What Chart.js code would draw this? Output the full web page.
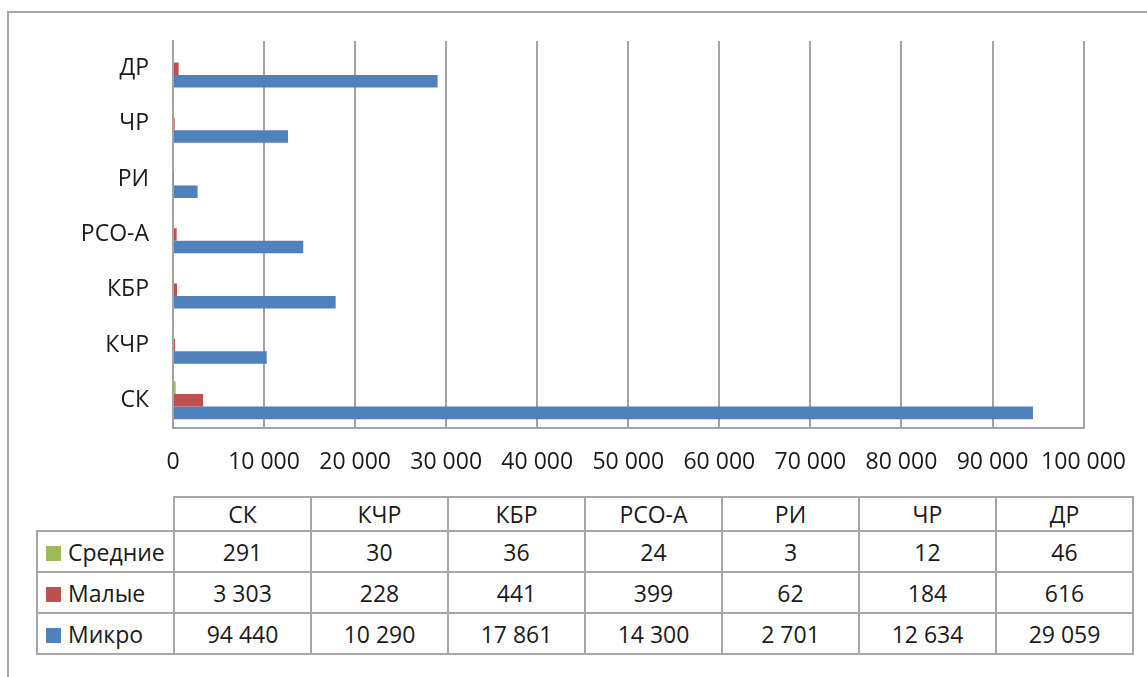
<!DOCTYPE html>
<html>
<head>
<meta charset="utf-8">
<script src="https://cdn.jsdelivr.net/npm/chart.js@4"></script>
<style>
  html, body { margin: 0; padding: 0; background: #fff; }
  body { width: 1147px; height: 677px; position: relative; overflow: hidden;
         font-family: "Open Sans", sans-serif; color: #1a1a1a; }
  #frame { position: absolute; left: 7px; top: 11px; width: 1200px; height: 700px;
           border-left: 2px solid #a6a6a6; border-top: 2px solid #a6a6a6; }
  #wrap { position: absolute; left: 0; top: 0; width: 1147px; height: 490px; }
  #data { position: absolute; left: 36px; top: 496px; border-collapse: collapse; font-size: 23px; }
  #data td { border: 2px solid #a6a6a6; text-align: center; padding: 0; height: 39px; width: 135px; }
  #data tr.head td { height: 29px; }
  #data td.empty { border: none; border-bottom: 2px solid #a6a6a6; border-right: 2px solid #a6a6a6; }
  #data td.name { text-align: left; padding-left: 8px; width: 127px; white-space: nowrap; }
  .key { display: inline-block; width: 15px; height: 15px; margin-right: 7px; vertical-align: 0px; }
</style>
</head>
<body>
<div id="frame"></div>
<div id="wrap"><canvas id="chart" width="1147" height="490"></canvas></div>
<table id="data"></table>
<script>
const regions = ['СК', 'КЧР', 'КБР', 'РСО-А', 'РИ', 'ЧР', 'ДР'];
const seriesNames = ['Средние', 'Малые', 'Микро'];
const seriesColors = ['#9bbb59', '#c0504d', '#4f81bd'];
const medium = [291, 30, 36, 24, 3, 12, 46];
const small = [3303, 228, 441, 399, 62, 184, 616];
const micro = [94440, 10290, 17861, 14300, 2701, 12634, 29059];
const xTicks = [0, 10000, 20000, 30000, 40000, 50000, 60000, 70000, 80000, 90000, 100000];

const series = [medium, small, micro];
const fmt = v => String(v).replace(/\B(?=(\d{3})+(?!\d))/g, ' ');
const font = { family: '"Open Sans", sans-serif', size: 23 };

// chart lists regions top-down, so flip the order
const chartLabels = regions.slice().reverse();

new Chart(document.getElementById('chart'), {
  type: 'bar',
  data: {
    labels: chartLabels,
    datasets: series.map((vals, i) => ({
      label: seriesNames[i],
      data: vals.slice().reverse(),
      backgroundColor: seriesColors[i],
      categoryPercentage: 0.68,
      barPercentage: 1
    }))
  },
  options: {
    indexAxis: 'y',
    responsive: false,
    animation: false,
    layout: { padding: { left: 0, right: 61, top: 41, bottom: 0 } },
    plugins: { legend: { display: false }, tooltip: { enabled: false } },
    scales: {
      x: {
        min: 0,
        max: 100000,
        afterBuildTicks: s => { s.ticks = xTicks.map(v => ({ value: v })); },
        afterFit: s => { s.height = 62; },
        grid: { color: '#a3a3a3', lineWidth: 2, drawTicks: false },
        border: { color: '#a3a3a3', width: 2 },
        ticks: { color: '#1a1a1a', font, padding: 21, maxRotation: 0, callback: v => fmt(v) }
      },
      y: {
        afterFit: s => { s.width = 173; },
        grid: { display: false, drawTicks: false },
        border: { color: '#a3a3a3', width: 2 },
        ticks: { color: '#1a1a1a', font, padding: 24 }
      }
    }
  }
});

// data table under the chart
const table = document.getElementById('data');
let head = '<tr class="head"><td class="empty"></td>';
regions.forEach(r => { head += '<td>' + r + '</td>'; });
table.innerHTML = head + '</tr>';
series.forEach((vals, i) => {
  let row = '<tr><td class="name"><span class="key" style="background:' + seriesColors[i] + '"></span>' + seriesNames[i] + '</td>';
  vals.forEach(v => { row += '<td>' + fmt(v) + '</td>'; });
  table.innerHTML += row + '</tr>';
});
</script>
</body>
</html>
